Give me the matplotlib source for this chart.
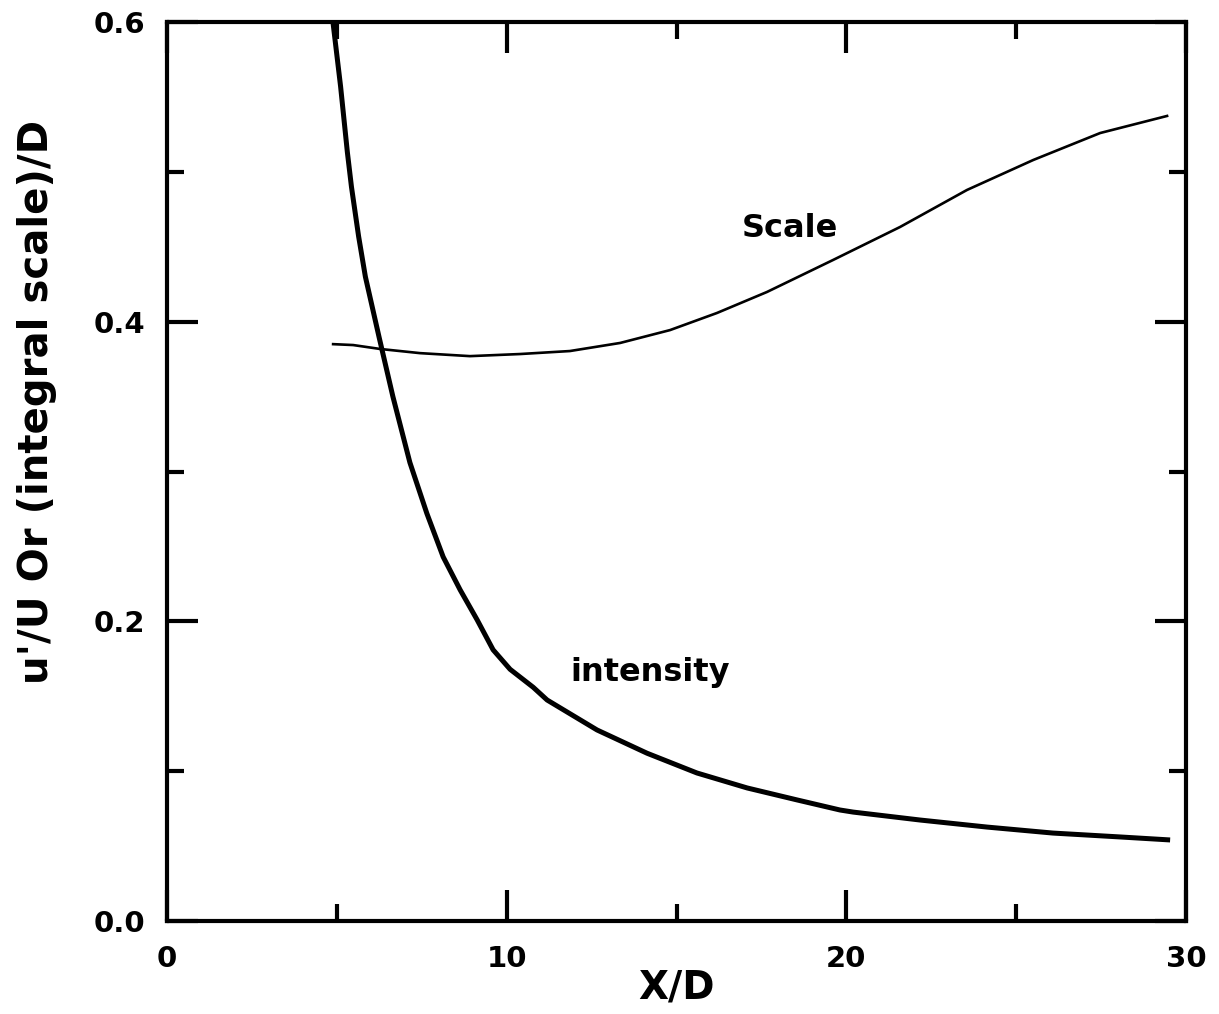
import matplotlib
matplotlib.use("Agg")
import matplotlib.pyplot as plt
from matplotlib.ticker import MultipleLocator

# Turbulence intensity u'/U versus X/D
intensity_x = [4.89, 5.11, 5.31, 5.43, 5.64, 5.84, 6.24, 6.65, 7.15, 7.65, 8.13, 8.63,
               9.13, 9.60, 10.10, 10.78, 11.19, 12.66, 14.13, 15.60, 17.08, 18.55,
               19.81, 20.2, 22.17, 24.14, 26.08, 28.06, 29.53]
intensity_y = [0.599, 0.557, 0.513, 0.490, 0.457, 0.430, 0.390, 0.350, 0.306, 0.272,
               0.243, 0.221, 0.201, 0.181, 0.168, 0.156, 0.1475, 0.1275, 0.112, 0.0988,
               0.0888, 0.0808, 0.0741, 0.0727, 0.0674, 0.0627, 0.0587, 0.0561, 0.0541]

# Integral scale / D versus X/D
scale_x = [4.89, 5.48, 6.27, 7.45, 8.92, 10.39, 11.86, 13.34, 14.81, 16.19, 17.66,
           19.61, 21.58, 23.55, 25.50, 27.47, 29.44]
scale_y = [0.385, 0.3844, 0.3818, 0.379, 0.377, 0.3784, 0.3804, 0.3858, 0.3944, 0.4058,
           0.4198, 0.4412, 0.4632, 0.4879, 0.5079, 0.5259, 0.5373]

x_ticks = [0, 10, 20, 30]
y_ticks = [0.0, 0.2, 0.4, 0.6]
y_tick_labels = ["0.0", "0.2", "0.4", "0.6"]

plt.rcParams['font.family'] = ['DejaVu Sans']
plt.rcParams['font.weight'] = 'bold'

fig = plt.figure(figsize=(12.19, 10.14), dpi=100)
ax = fig.add_axes([0.137, 0.0917, 0.836, 0.8866])

ax.plot(intensity_x, intensity_y, color='black', lw=3.6, solid_capstyle='butt',
        solid_joinstyle='round')
ax.plot(scale_x, scale_y, color='black', lw=1.9, solid_joinstyle='round')

ax.text(18.34, 0.462, "Scale", fontsize=23, fontweight='bold', ha='center', va='center')
ax.text(14.22, 0.166, "intensity", fontsize=23, fontweight='bold', ha='center', va='center')

ax.set_xlim(0, 30)
ax.set_ylim(0, 0.6)
ax.set_xticks(x_ticks)
ax.set_xticklabels([str(v) for v in x_ticks])
ax.set_yticks(y_ticks)
ax.set_yticklabels(y_tick_labels)
ax.xaxis.set_minor_locator(MultipleLocator(5))
ax.yaxis.set_minor_locator(MultipleLocator(0.1))

ax.tick_params(which='both', direction='in', top=True, right=True, width=3, colors='black')
ax.tick_params(which='major', length=22, labelsize=21)
ax.tick_params(axis='y', which='major', pad=16)
ax.tick_params(axis='x', which='major', pad=17)
ax.tick_params(which='minor', length=12)
for lbl in ax.get_xticklabels() + ax.get_yticklabels():
    lbl.set_fontweight('bold')

for sp in ax.spines.values():
    sp.set_linewidth(3)

ax.set_xlabel("X/D", fontsize=28, fontweight='bold', va='center')
ax.xaxis.set_label_coords(0.5, -0.0745)
ax.set_ylabel("u'/U Or (integral scale)/D", fontsize=29, fontweight='bold', va='center')
ax.yaxis.set_label_coords(-0.1276, 0.577)

fig.savefig("out.png", dpi=100)
